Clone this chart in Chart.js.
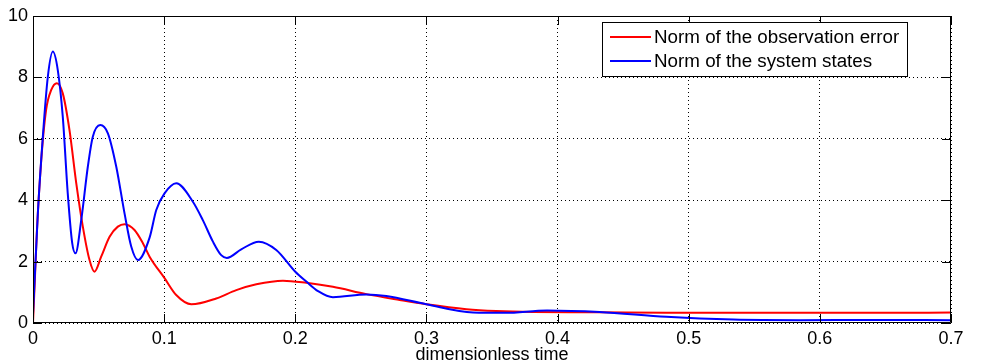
<!DOCTYPE html>
<html>
<head>
<meta charset="utf-8">
<script src="https://cdn.jsdelivr.net/npm/chart.js@4.4.1/dist/chart.umd.min.js"></script>
<style>
html,body{margin:0;padding:0;background:#fff;}
#wrap{width:982px;height:362px;position:relative;}
</style>
</head>
<body>
<div id="wrap"><canvas id="c" width="982" height="362"></canvas></div>
<script>
// ---- data ----
const errorT = [0, 0.0015, 0.0029, 0.0063, 0.010, 0.0139, 0.0182, 0.0227, 0.0278, 0.033, 0.038, 0.0431, 0.0469, 0.052, 0.0584, 0.0647, 0.0698, 0.0774, 0.0838, 0.0889, 0.1003, 0.1092, 0.1207, 0.1397, 0.155, 0.1703, 0.1906, 0.2084, 0.2287, 0.2542, 0.2796, 0.3, 0.3305, 0.3533, 0.381, 0.43, 0.483, 0.55, 0.6, 0.65, 0.7];
const errorV = [0, 1.5, 2.92, 5.31, 6.94, 7.59, 7.81, 7.48, 6.29, 4.55, 3.14, 2.05, 1.67, 2.16, 2.81, 3.14, 3.22, 3.03, 2.6, 2.16, 1.46, 0.91, 0.61, 0.80, 1.07, 1.26, 1.38, 1.31, 1.18, 0.94, 0.75, 0.61, 0.45, 0.39, 0.36, 0.35, 0.33, 0.33, 0.33, 0.33, 0.34];

const statesT = [0, 0.0037, 0.0075, 0.0113, 0.0151, 0.0189, 0.0227, 0.0265, 0.0299, 0.0324, 0.0368, 0.0418, 0.0456, 0.0513, 0.0571, 0.0635, 0.0698, 0.0749, 0.080, 0.0889, 0.094, 0.1003, 0.1092, 0.1219, 0.1295, 0.1372, 0.1435, 0.1478, 0.1588, 0.1722, 0.1855, 0.2, 0.2084, 0.2173, 0.2287, 0.2542, 0.2694, 0.2999, 0.3355, 0.36, 0.392, 0.432, 0.483, 0.534, 0.585, 0.64, 0.7];
const statesV = [0.26, 3.57, 6.07, 8.02, 8.84, 8.24, 6.72, 4.22, 2.6, 2.27, 3.36, 5.09, 6.07, 6.45, 6.18, 5.09, 3.57, 2.49, 2.05, 2.78, 3.68, 4.22, 4.55, 3.95, 3.35, 2.65, 2.21, 2.12, 2.40, 2.65, 2.38, 1.67, 1.35, 1.04, 0.84, 0.93, 0.88, 0.61, 0.34, 0.33, 0.41, 0.36, 0.2, 0.11, 0.09, 0.1, 0.09];

const xTicks = [0, 0.1, 0.2, 0.3, 0.4, 0.5, 0.6, 0.7];
const yTicks = [0, 2, 4, 6, 8, 10];
const seriesNames = ['Norm of the observation error', 'Norm of the system states'];
const xTitle = 'dimensionless time';

const FONT = '"Liberation Sans", Arial, sans-serif';

function pts(t, v){ return t.map((x,i)=>({x:x, y:v[i]})); }

const framePlugin = {
  id:'frame',
  afterDatasetsDraw(chart){
    const {ctx, chartArea:a, scales} = chart;
    ctx.save();
    ctx.strokeStyle = '#000';
    ctx.lineWidth = 1;
    ctx.setLineDash([]);
    ctx.beginPath();
    ctx.rect(a.left+0.5, a.top+0.5, a.right-a.left-1, a.bottom-a.top-1);
    ctx.stroke();
    const L = 9;
    ctx.beginPath();
    xTicks.forEach(v=>{
      const px = Math.round(scales.x.getPixelForValue(v))+0.5;
      ctx.moveTo(px, a.bottom); ctx.lineTo(px, a.bottom-L);
      ctx.moveTo(px, a.top); ctx.lineTo(px, a.top+L);
    });
    yTicks.forEach(v=>{
      const py = Math.round(scales.y.getPixelForValue(v))+0.5;
      ctx.moveTo(a.left, py); ctx.lineTo(a.left+L, py);
      ctx.moveTo(a.right, py); ctx.lineTo(a.right-L, py);
    });
    ctx.stroke();
    ctx.restore();
  },
  afterDraw(chart){
    const ctx = chart.ctx;
    const ds = chart.data.datasets;
    const bx = 602.5, by = 22.5, bw = 305, bh = 54;
    ctx.save();
    ctx.fillStyle = '#fff';
    ctx.fillRect(bx, by, bw, bh);
    ctx.strokeStyle = '#000';
    ctx.lineWidth = 1;
    ctx.setLineDash([]);
    ctx.strokeRect(bx, by, bw, bh);
    ctx.font = '18.8px ' + FONT;
    ctx.textBaseline = 'middle';
    ctx.textAlign = 'left';
    const rows = [37, 61];
    ds.forEach((d,i)=>{
      const y = rows[i];
      ctx.strokeStyle = d.borderColor;
      ctx.lineWidth = 2;
      ctx.beginPath();
      ctx.moveTo(610, y); ctx.lineTo(651, y);
      ctx.stroke();
      ctx.fillStyle = '#000';
      ctx.fillText(d.label, 654, y+1);
    });
    ctx.restore();
  }
};

new Chart(document.getElementById('c'), {
  type:'line',
  data:{
    datasets:[
      {label:seriesNames[0], data:pts(errorT, errorV), borderColor:'#ff0000', borderWidth:2, pointRadius:0, cubicInterpolationMode:'monotone', fill:false, order:2},
      {label:seriesNames[1], data:pts(statesT, statesV), borderColor:'#0000ff', borderWidth:2, pointRadius:0, cubicInterpolationMode:'monotone', fill:false, order:1}
    ]
  },
  options:{
    responsive:false,
    animation:false,
    layout:{padding:{top:16, right:31, left:0, bottom:0}},
    plugins:{legend:{display:false}, tooltip:{enabled:false}},
    scales:{
      x:{
        type:'linear', min:0, max:0.7,
        afterBuildTicks(s){ s.ticks = xTicks.map(v=>({value:v})); },
        afterFit(s){ s.height = 39; },
        grid:{color:'#000', lineWidth:1, drawTicks:false, drawOnChartArea:true},
        border:{display:false, dash:[1,3]},
        ticks:{color:'#000', font:{family:FONT, size:18}, padding:5, maxRotation:0, autoSkip:false,
          callback:(v)=> String(v)},
        title:{display:true, text:xTitle, color:'#000', font:{family:FONT, size:18}, padding:{top:0,bottom:-4}}
      },
      y:{
        type:'linear', min:0, max:10,
        afterBuildTicks(s){ s.ticks = yTicks.map(v=>({value:v})); },
        afterFit(s){ s.width = 33; },
        grid:{color:'#000', lineWidth:1, drawTicks:false},
        border:{display:false, dash:[1,3]},
        ticks:{color:'#000', font:{family:FONT, size:18}, padding:5, autoSkip:false}
      }
    }
  },
  plugins:[framePlugin]
});
</script>
</body>
</html>
